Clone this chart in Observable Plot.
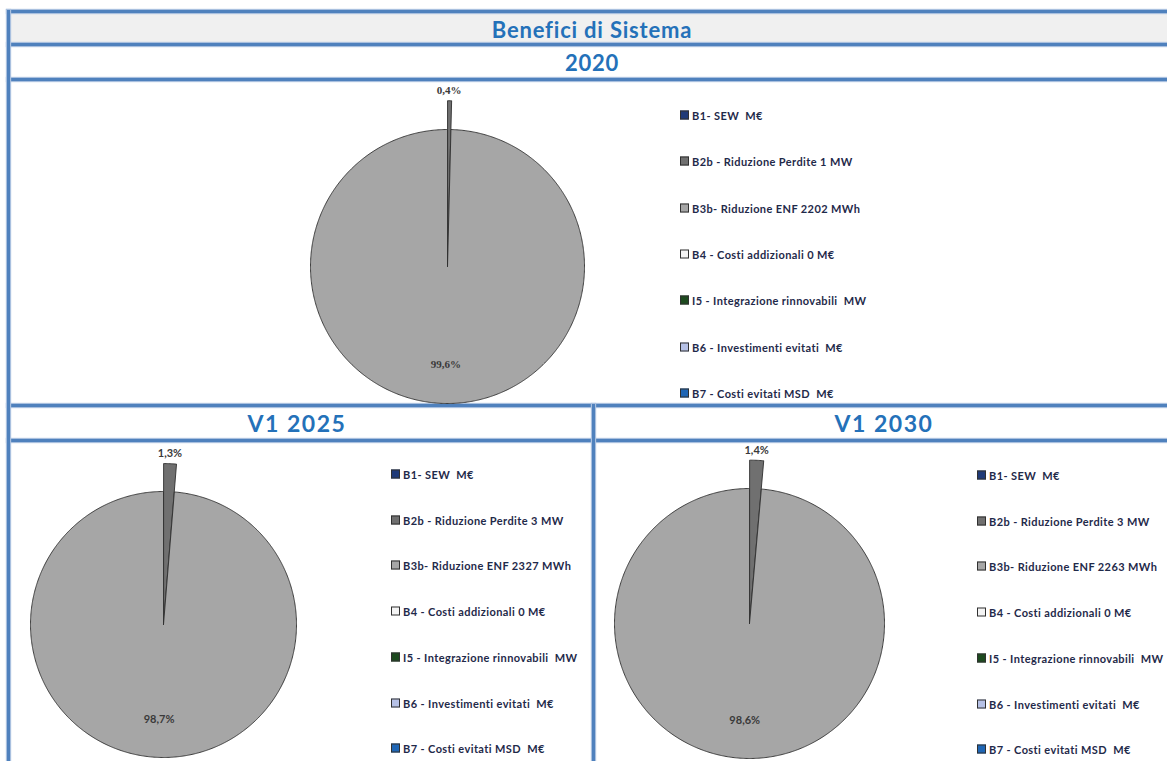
<!DOCTYPE html>
<html><head><meta charset="utf-8">
<script src="https://cdn.jsdelivr.net/npm/d3@7"></script>
<script src="https://cdn.jsdelivr.net/npm/@observablehq/plot@0.6"></script>
<style>
body{margin:0;width:1167px;height:761px;overflow:hidden;background:#fff;position:relative;font-family:Lato,"Open Sans",sans-serif;}
.hl{position:absolute;height:3px;background:#4f81bd;box-shadow:0 0 1px 1px #a9c0df;}
.vl{position:absolute;width:3px;background:#4f81bd;box-shadow:0 0 1px 1px #a9c0df;}
.band{position:absolute;}
.hdr{position:absolute;color:#2471b9;font-weight:bold;text-align:center;white-space:nowrap;transform:translate(-50%,-50%);letter-spacing:0.8px;}
.li{position:absolute;white-space:pre;font-size:11px;letter-spacing:0.4px;font-weight:bold;color:#1f2a4a;display:flex;align-items:center;transform:translateY(-50%);}
.sw{width:7px;height:7px;border:1px solid #303030;margin-right:3px;flex:none;}
.pie{position:absolute;}
</style></head><body>
<script>
// ---------- data ----------
const categories = ["B1", "B2b", "B3b", "B4", "I5", "B6", "B7"];
const legend2020 = ["B1- SEW  M€", "B2b - Riduzione Perdite 1 MW", "B3b- Riduzione ENF 2202 MWh", "B4 - Costi addizionali 0 M€", "I5 - Integrazione rinnovabili  MW", "B6 - Investimenti evitati  M€", "B7 - Costi evitati MSD  M€"];
const legend2025 = ["B1- SEW  M€", "B2b - Riduzione Perdite 3 MW", "B3b- Riduzione ENF 2327 MWh", "B4 - Costi addizionali 0 M€", "I5 - Integrazione rinnovabili  MW", "B6 - Investimenti evitati  M€", "B7 - Costi evitati MSD  M€"];
const legend2030 = ["B1- SEW  M€", "B2b - Riduzione Perdite 3 MW", "B3b- Riduzione ENF 2263 MWh", "B4 - Costi addizionali 0 M€", "I5 - Integrazione rinnovabili  MW", "B6 - Investimenti evitati  M€", "B7 - Costi evitati MSD  M€"];
const colors = ["#1f3a78", "#707070", "#a6a6a6", "#f4f4f4", "#1d4a1f", "#b6c1e6", "#1f66b5"];
const share2020 = [0, 0.4, 99.6, 0, 0, 0, 0];
const share2025 = [0, 1.3, 98.7, 0, 0, 0, 0];
const share2030 = [0, 1.4, 98.6, 0, 0, 0, 0];
const mainTitle = "Benefici di Sistema";
const panelTitles = ["2020", "V1 2025", "V1 2030"];

// ---------- frame ----------
function el(tag, cls, css, text) {
  const e = document.createElement(tag);
  if (cls) e.className = cls;
  Object.assign(e.style, css);
  if (text != null) e.textContent = text;
  document.body.appendChild(e);
  return e;
}
el("div", "band", {left: "7px", top: "10px", width: "1170px", height: "34px", background: "#f0f0f0"});
[[10, 7, 1170], [43, 7, 1170], [78, 7, 1170], [404, 7, 1170], [439, 7, 1170]].forEach(([y, x, w]) =>
  el("div", "hl", {top: y + "px", left: x + "px", width: w + "px"}));
el("div", "vl", {left: "7px", top: "10px", height: "760px"});
el("div", "vl", {left: "592px", top: "404px", height: "360px"});

el("div", "hdr", {left: "592px", top: "29px", fontSize: "22px"}, mainTitle);
el("div", "hdr", {left: "592px", top: "62px", fontSize: "22px"}, panelTitles[0]);
el("div", "hdr", {left: "297px", top: "423px", fontSize: "23px", letterSpacing: "1.5px"}, panelTitles[1]);
el("div", "hdr", {left: "884px", top: "423px", fontSize: "23px", letterSpacing: "1.5px"}, panelTitles[2]);

// ---------- legends ----------
function legend(labels, x, y0, step) {
  labels.forEach((t, i) => {
    const d = el("div", "li", {left: x + "px", top: (y0 + i * step) + "px"});
    const s = document.createElement("span");
    s.className = "sw";
    s.style.background = colors[i];
    d.appendChild(s);
    d.appendChild(document.createTextNode(t));
  });
}
legend(legend2020, 680, 115, 46.3);
legend(legend2025, 391, 474, 45.7);
legend(legend2030, 977, 475, 45.7);

// ---------- pies ----------
const fmt = v => d3.format(".1f")(v).replace(".", ",") + "%";
function pie(shares, cx, cy, r, w, h, labelFont) {
  const data = categories.map((c, i) => ({cat: c, v: shares[i]}));
  const arcs = d3.pie().sort(null).value(d => d.v).startAngle(0).endAngle(2 * Math.PI)(data);
  const pts = [], labels = [];
  const total = d3.sum(shares);
  arcs.forEach(a => {
    if (a.data.v <= 0) return;
    const small = a.data.v / total < 0.05;
    const mid = (a.startAngle + a.endAngle) / 2;
    const off = small ? 0.02 : 0;
    const R = small ? 1.19 : 1;
    const ax = off * Math.sin(mid), ay = off * Math.cos(mid);
    pts.push({cat: a.data.cat, x: ax, y: ay});
    const n = Math.max(2, Math.ceil((a.endAngle - a.startAngle) / (Math.PI / 360)));
    for (let k = 0; k <= n; k++) {
      const t = a.startAngle + (a.endAngle - a.startAngle) * k / n;
      pts.push({cat: a.data.cat, x: ax + R * Math.sin(t), y: ay + R * Math.cos(t)});
    }
    pts.push({cat: a.data.cat, x: ax, y: ay});
    const lr = small ? 1.28 : 0.72;
    labels.push({x: lr * Math.sin(mid), y: lr * Math.cos(mid), text: fmt(a.data.v / total * 100), dx: small ? 2 : -18});
  });
  const svg = Plot.plot({
    width: w, height: h, margin: 0,
    x: {domain: [-w / 2 / r, w / 2 / r], axis: null},
    y: {domain: [-h / 2 / r, h / 2 / r], axis: null},
    color: {domain: categories, range: colors},
    style: {background: "transparent", overflow: "visible"},
    marks: [
      Plot.line(pts, {x: "x", y: "y", z: "cat", fill: "cat", stroke: "#2f2f2f", strokeWidth: 0.9, curve: "linear"}),
      Plot.text(labels, {x: "x", y: "y", text: "text", dx: "dx", fontSize: 11, fontFamily: labelFont, fill: "#3a3a3a", fontWeight: "bold"})
    ]
  });
  const wrap = el("div", "pie", {left: (cx - w / 2) + "px", top: (cy - h / 2) + "px"});
  wrap.appendChild(svg);
}
pie(share2020, 447, 266, 137, 360, 360, "Liberation Serif");
pie(share2025, 163, 624, 133, 320, 320, "Lato");
pie(share2030, 749, 623, 135, 320, 320, "Lato");
</script>
</body></html>
